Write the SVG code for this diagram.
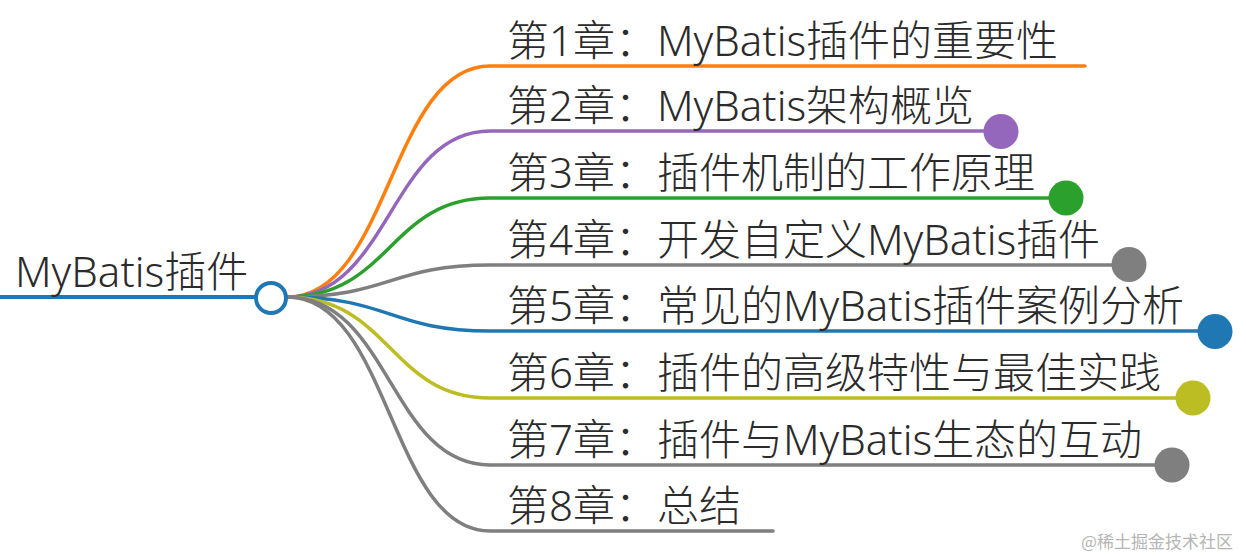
<svg xmlns="http://www.w3.org/2000/svg" width="1246" height="556" viewBox="0 0 1246 556">
<style>
.br{fill:none;stroke-width:3.5;stroke-linecap:round}
.lbl{font-family:"Noto Sans","Noto Sans CJK SC",sans-serif;font-size:42px;font-weight:300;fill:#2b2b2b}
.wm{font-family:"Noto Sans CJK SC",sans-serif;font-size:17px;fill:#b5b5b5}
</style>
<rect width="1246" height="556" fill="#fff"/>
<g id="connectors">
<path class="br" stroke="#ff7f0e" d="M287,297 C390,297 390,66 490,66 H1085"/>
<path class="br" stroke="#9467bd" d="M287,297 C390,297 390,131 490,131 H1001"/>
<path class="br" stroke="#2ca02c" d="M287,297 C390,297 390,198 490,198 H1066"/>
<path class="br" stroke="#7f7f7f" d="M287,297 C390,297 390,265 490,265 H1129"/>
<path class="br" stroke="#1f77b4" d="M287,297 C390,297 390,331 490,331 H1215"/>
<path class="br" stroke="#bcbd22" d="M287,297 C390,297 390,398 490,398 H1193"/>
<path class="br" stroke="#7f7f7f" d="M287,297 C390,297 390,465 490,465 H1172"/>
<path class="br" stroke="#7f7f7f" d="M287,297 C390,297 390,531 490,531 H773"/>
</g>
<g id="root">
<line x1="0" y1="297" x2="256" y2="297" stroke="#1f77b4" stroke-width="4"/>
<circle cx="271" cy="298" r="15" fill="#fff" stroke="#1f77b4" stroke-width="4"/>
<text class="lbl" x="15" y="287" font-size="38">MyBatis插件</text>
</g>
<g id="n1"><text class="lbl" x="507" y="56">第1章：MyBatis插件的重要性</text></g>
<g id="n2"><text class="lbl" x="507" y="121">第2章：MyBatis架构概览</text><circle cx="1001" cy="131.5" r="17.5" fill="#9467bd"/></g>
<g id="n3"><text class="lbl" x="507" y="188">第3章：插件机制的工作原理</text><circle cx="1066" cy="198" r="17.5" fill="#2ca02c"/></g>
<g id="n4"><text class="lbl" x="507" y="255">第4章：开发自定义MyBatis插件</text><circle cx="1129" cy="264.5" r="17.5" fill="#7f7f7f"/></g>
<g id="n5"><text class="lbl" x="507" y="321">第5章：常见的MyBatis插件案例分析</text><circle cx="1215" cy="331.5" r="17.5" fill="#1f77b4"/></g>
<g id="n6"><text class="lbl" x="507" y="388">第6章：插件的高级特性与最佳实践</text><circle cx="1193" cy="398" r="17.5" fill="#bcbd22"/></g>
<g id="n7"><text class="lbl" x="507" y="455">第7章：插件与MyBatis生态的互动</text><circle cx="1172" cy="465" r="17.5" fill="#7f7f7f"/></g>
<g id="n8"><text class="lbl" x="507" y="521">第8章：总结</text></g>
<text class="wm" x="1081" y="548">@稀土掘金技术社区</text>
</svg>
